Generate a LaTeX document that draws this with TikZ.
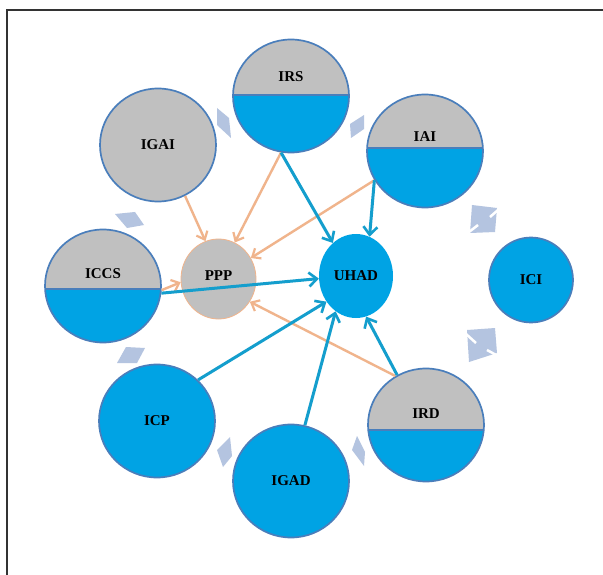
\documentclass[tikz,border=0pt]{standalone}
\usepackage{fontspec}
\setmainfont{Liberation Serif}
\usetikzlibrary{shapes.geometric,arrows.meta}
\definecolor{cblue}{RGB}{0,163,228}
\definecolor{cgray}{RGB}{192,192,192}
\definecolor{cborder}{RGB}{74,126,187}
\definecolor{ctan}{RGB}{240,180,140}
\definecolor{carrow}{RGB}{20,158,205}
\definecolor{cdeco}{RGB}{180,196,224}
\tikzset{
  lbl/.style={font=\fontsize{15}{17}\selectfont\bfseries},
  circ/.style={ellipse, minimum width=116pt, minimum height=113pt, draw=cborder, line width=1.7pt, inner sep=0pt, lbl},
  bluec/.style={circ, fill=cblue},
  halfc/.style={circ, fill=cgray, path picture={
      \fill[cblue] ([yshift=#1]path picture bounding box.west) rectangle (path picture bounding box.south east);
      \draw[cborder, line width=1.5pt] ([yshift=#1]path picture bounding box.west) -- ([yshift=#1]path picture bounding box.east);}},
  barrow/.style={draw=carrow, line width=3pt, -{Straight Barb[length=8pt,width=14pt,line width=2.6pt]}},
  tarrow/.style={draw=ctan, line width=2.4pt, -{Straight Barb[length=7pt,width=12pt,line width=2.2pt]}},
  deco/.style={fill=cdeco, draw=none},
  slit/.style={draw=white, line width=2.5pt},
  frame/.style={draw=black!80, line width=1.4pt}
}
\begin{document}
\begin{tikzpicture}[x=1pt,y=-1pt]
\useasboundingbox (0,0) rectangle (603,575);
\fill[white] (0,0) rectangle (603,575);
\draw[frame] (7,575) -- (7,10) -- (603,10);

% decorations
\fill[deco] (217,108) -- (229,118) -- (231,138) -- (217,125) -- cycle;
\fill[deco] (364,115) -- (350,124) -- (351,138) -- (364,129) -- cycle;
\fill[deco] (115,214) -- (135,212) -- (144,225) -- (127,228) -- cycle;
\fill[deco] (126,347) -- (145,348) -- (137,363) -- (117,363) -- cycle;
\fill[deco] (230,437) -- (232,456) -- (223,467) -- (217,450) -- cycle;
\fill[deco] (357,436) -- (365,452) -- (364,466) -- (352,450) -- cycle;
\fill[deco] (472,205) -- (497,208) -- (495,232) -- (470,233) -- cycle;
\draw[slit] (498,210) -- (490,217);
\draw[slit] (478,225) -- (469,232);
\fill[deco] (467,330) -- (495,328) -- (497,353) -- (469,362) -- cycle;
\draw[slit] (466,334) -- (476,343);
\draw[slit] (487,350) -- (498,356);

% circles
\node[halfc=1pt, label={[yshift=19pt, lbl]center:IRS}] (IRS) at (291,96) {};
\node[halfc=3pt, label={[yshift=14pt, lbl]center:IAI}] (IAI) at (425,151) {};
\node[circ, fill=cgray] (IGAI) at (158,145) {IGAI};
\node[halfc=-3pt, label={[yshift=12pt, lbl]center:ICCS}] (ICCS) at (103,286) {};
\node[halfc=-5pt, label={[yshift=11pt, lbl]center:IRD}] (IRD) at (426,425) {};
\node[bluec] (ICP) at (157,421) {ICP};
\node[bluec] (IGAD) at (291,481) {IGAD};
\node[circ, fill=cblue, minimum width=84pt, minimum height=85pt] (ICI) at (531,280) {ICI};
\node[ellipse, fill=cblue, draw=none, minimum width=74pt, minimum height=84pt, inner sep=0pt, lbl] (UHAD) at (356,276) {UHAD};
\node[ellipse, fill=cgray, draw=ctan, line width=0.8pt, minimum width=75pt, minimum height=80pt, inner sep=0pt, lbl] (PPP) at (218.5,279) {\raisebox{7pt}{PPP}};

% tan arrows
\draw[tarrow] (IRS.-100) -- (PPP.66);
\draw[tarrow] (IGAI.-62) -- (PPP.109);
\draw[tarrow] (IAI.-150) -- (PPP.33);
\draw[tarrow] (ICCS.-4) -- (PPP.185);
\draw[tarrow] (IRD.122) -- (PPP.-36);

% blue arrows
\draw[barrow] (IRS.-100) -- (UHAD.125);
\draw[barrow] (IAI.-150) -- (UHAD.71);
\draw[barrow] (ICCS.-7) -- (UHAD.184);
\draw[barrow] (ICP.45) -- (UHAD.221);
\draw[barrow] (IGAD.76) -- (UHAD.240);
\draw[barrow] (IRD.120) -- (UHAD.284);
\end{tikzpicture}
\end{document}
